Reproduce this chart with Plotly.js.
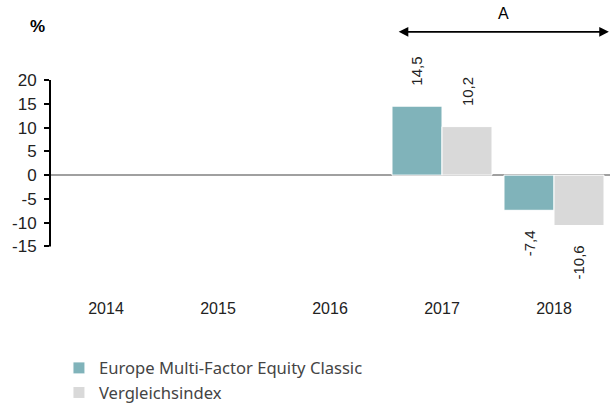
<!DOCTYPE html>
<html>
<head>
<meta charset="utf-8">
<script src="https://cdn.plot.ly/plotly-3.0.1.min.js"></script>
<style>html,body{margin:0;padding:0;background:#fff;}#chart{width:610px;height:403px;}</style>
</head>
<body>
<div id="chart"></div>
<script>
var years = ['2014', '2015', '2016', '2017', '2018'];
var fundName = 'Europe Multi-Factor Equity Classic';
var indexName = 'Vergleichsindex';
var fundValues = [null, null, null, 14.5, -7.4];
var indexValues = [null, null, null, 10.2, -10.6];
var yTicks = [-15, -10, -5, 0, 5, 10, 15, 20];
var periodLabel = 'A';

var fundColor = '#80b3ba';
var indexColor = '#d9d9d9';

function fmt(v) { return v.toFixed(1).replace('.', ','); }

var traces = [
  {type: 'bar', name: fundName, x: years, y: fundValues,
   marker: {color: fundColor, line: {color: '#ffffff', width: 1}}, hoverinfo: 'none'},
  {type: 'bar', name: indexName, x: years, y: indexValues,
   marker: {color: indexColor, line: {color: '#ffffff', width: 1}}, hoverinfo: 'none'}
];

var annotations = [];
function addLabels(vals, shift) {
  vals.forEach(function (v, i) {
    if (v === null) return;
    annotations.push({
      x: i, y: v, xref: 'x', yref: 'y',
      text: fmt(v), showarrow: false, textangle: -90,
      xanchor: 'center', yanchor: v >= 0 ? 'bottom' : 'top',
      xshift: shift, yshift: v >= 0 ? 18 : -18,
      font: {family: 'Liberation Sans, Arial, sans-serif', size: 15, color: '#222'}
    });
  });
}
addLabels(fundValues, -25);
addLabels(indexValues, 25);

// period arrow "A"
annotations.push({
  xref: 'paper', yref: 'paper', x: 0.998, y: 1.225, ax: 0.62, ay: 1.225,
  axref: 'paper', ayref: 'paper', text: '', showarrow: true,
  arrowhead: 2, arrowside: 'end+start', arrowsize: 1.2, arrowwidth: 1.6, arrowcolor: '#000'
});
annotations.push({
  xref: 'paper', yref: 'paper', x: 0.81, y: 1.26, text: periodLabel, showarrow: false,
  xanchor: 'center', yanchor: 'bottom',
  font: {family: 'Liberation Sans, Arial, sans-serif', size: 16, color: '#000'}
});
annotations.push({
  xref: 'paper', yref: 'paper', x: -0.022, y: 1.25, text: '<b>%</b>', showarrow: false,
  xanchor: 'center', yanchor: 'middle',
  font: {family: 'Liberation Sans, Arial, sans-serif', size: 17, color: '#000'}
});

var layout = {
  width: 610, height: 403,
  margin: {l: 50, r: 0, t: 80, b: 109.4},
  paper_bgcolor: '#fff', plot_bgcolor: '#fff',
  barmode: 'group', bargap: 0.107, bargroupgap: 0,
  showlegend: true,
  legend: {
    orientation: 'v', x: 0.016, xref: 'paper', y: 0.13, yref: 'container',
    xanchor: 'left', yanchor: 'top',
    font: {family: 'Noto Sans, sans-serif', size: 16.6, color: '#444'},
    tracegroupgap: 0, itemwidth: 30
  },
  xaxis: {
    type: 'category', categoryorder: 'array', categoryarray: years,
    range: [-0.5, years.length - 0.5], autorange: false,
    tickvals: years, ticktext: years,
    showline: false, showgrid: false, ticks: '',
    ticklabelstandoff: 3,
    tickfont: {family: 'Liberation Sans, Arial, sans-serif', size: 16, color: '#222'},
    zeroline: false
  },
  yaxis: {
    range: [-25, 20], autorange: false, tickvals: yTicks, ticktext: yTicks.map(String),
    showgrid: false, showline: false, ticks: 'outside', ticklen: 5, tickwidth: 2, tickcolor: '#000',
    zeroline: true, zerolinecolor: '#a0a0a0', zerolinewidth: 2,
    ticklabelstandoff: 4,
    tickfont: {family: 'Liberation Sans, Arial, sans-serif', size: 17, color: '#222'}
  },
  shapes: [
    {type: 'line', xref: 'paper', yref: 'y', x0: 0, x1: 0, y0: yTicks[0], y1: yTicks[yTicks.length - 1],
     line: {color: '#000', width: 2}}
  ],
  annotations: annotations
};

Plotly.newPlot('chart', traces, layout, {staticPlot: true, displayModeBar: false});
</script>
</body>
</html>
